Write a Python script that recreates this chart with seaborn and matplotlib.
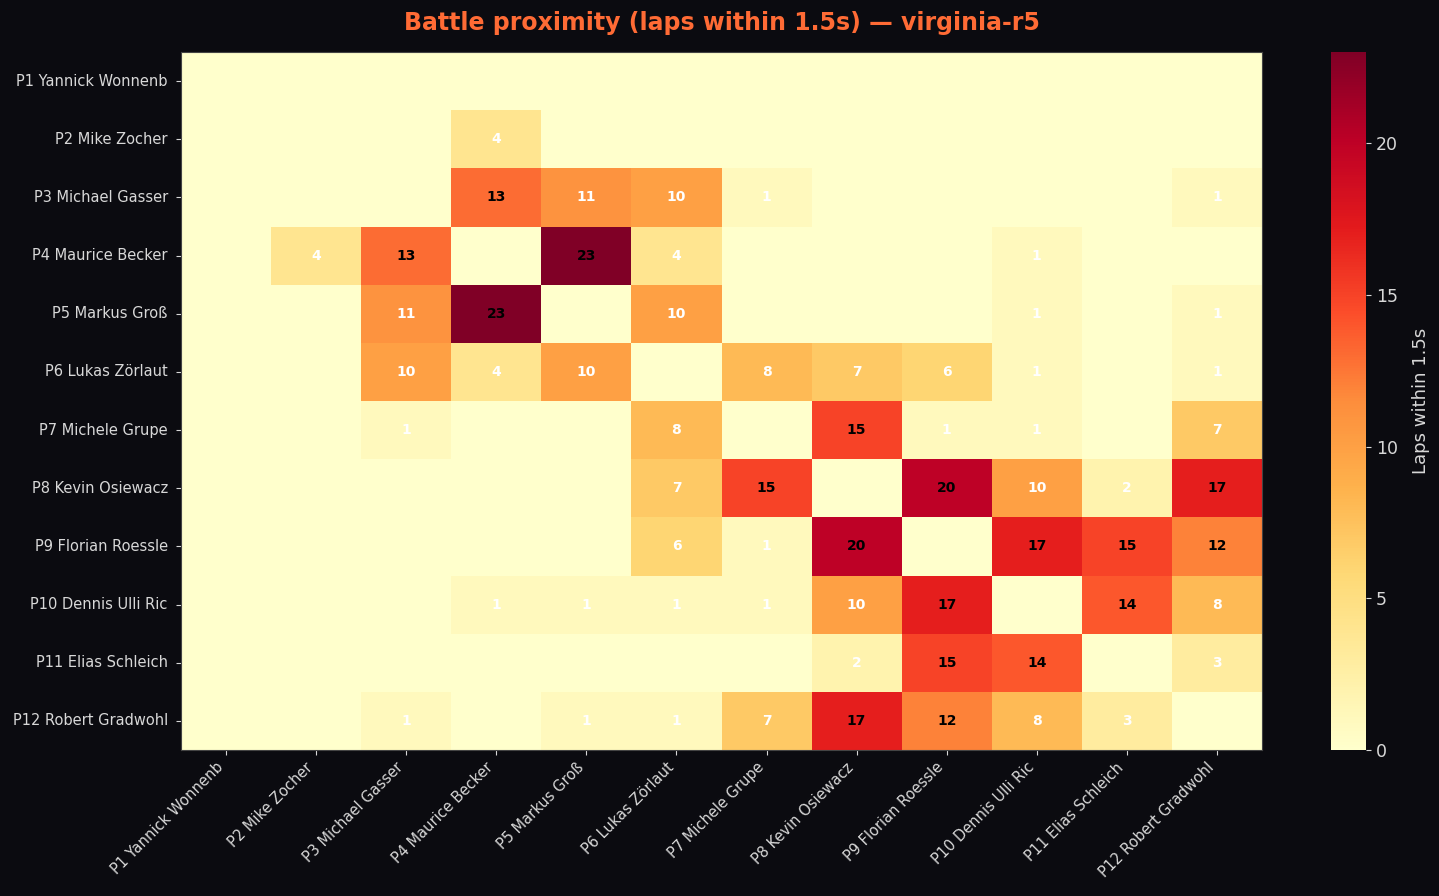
import numpy as np
import pandas as pd
import matplotlib
matplotlib.use("Agg")
import matplotlib.pyplot as plt
import seaborn as sns

# Drivers (row / column order)
drivers = [
    "P1 Yannick Wonnenb", "P2 Mike Zocher", "P3 Michael Gasser",
    "P4 Maurice Becker", "P5 Markus Groß", "P6 Lukas Zörlaut",
    "P7 Michele Grupe", "P8 Kevin Osiewacz", "P9 Florian Roessle",
    "P10 Dennis Ulli Ric", "P11 Elias Schleich", "P12 Robert Gradwohl",
]

# laps within 1.5s, one row per driver
p1 = [0, 0, 0, 0, 0, 0, 0, 0, 0, 0, 0, 0]
p2 = [0, 0, 0, 4, 0, 0, 0, 0, 0, 0, 0, 0]
p3 = [0, 0, 0, 13, 11, 10, 1, 0, 0, 0, 0, 1]
p4 = [0, 4, 13, 0, 23, 4, 0, 0, 0, 1, 0, 0]
p5 = [0, 0, 11, 23, 0, 10, 0, 0, 0, 1, 0, 1]
p6 = [0, 0, 10, 4, 10, 0, 8, 7, 6, 1, 0, 1]
p7 = [0, 0, 1, 0, 0, 8, 0, 15, 1, 1, 0, 7]
p8 = [0, 0, 0, 0, 0, 7, 15, 0, 20, 10, 2, 17]
p9 = [0, 0, 0, 0, 0, 6, 1, 20, 0, 17, 15, 12]
p10 = [0, 0, 0, 1, 1, 1, 1, 10, 17, 0, 14, 8]
p11 = [0, 0, 0, 0, 0, 0, 0, 2, 15, 14, 0, 3]
p12 = [0, 0, 1, 0, 1, 1, 7, 17, 12, 8, 3, 0]

df = pd.DataFrame([p1, p2, p3, p4, p5, p6, p7, p8, p9, p10, p11, p12],
                  index=drivers, columns=drivers)

bg = "#0b0b10"
txt = "#d8d8d8"

fig = plt.figure(figsize=(14.39, 8.96), dpi=100, facecolor=bg)
ax = fig.add_axes([181 / 1439, 1 - 750 / 896, (1262 - 181) / 1439, (750 - 52) / 896])
cax = fig.add_axes([1331 / 1439, 1 - 750 / 896, 35 / 1439, (750 - 52) / 896])
ax.set_facecolor(bg)

vmax = df.values.max()
sns.heatmap(df, ax=ax, cbar_ax=cax, cmap="YlOrRd", vmin=0, vmax=vmax,
            cbar_kws={"label": "Laps within 1.5s"})

# annotate non-zero cells
for i in range(len(drivers)):
    for j in range(len(drivers)):
        v = df.iat[i, j]
        if v > 0:
            c = "black" if v > vmax / 2 else "white"
            ax.text(j + 0.5, i + 0.5, str(v), ha="center", va="center",
                    fontsize=10, fontweight="bold", color=c)

ax.set_xlabel("")
ax.set_ylabel("")
ax.set_xticklabels(drivers, rotation=45, ha="right", fontsize=10.5, color=txt)
ax.set_yticklabels(drivers, rotation=0, fontsize=10.5, color=txt)
ax.tick_params(colors=txt, length=3.5)
ax.tick_params(axis="y", pad=6)
for s in ax.spines.values():
    s.set_visible(True)
    s.set_color("#444444")

ax.set_title("Battle proximity (laps within 1.5s) — virginia-r5",
             color="#ff6b35", fontsize=17, fontweight="bold", pad=16)

cax.tick_params(colors=txt, labelsize=12.5)
cax.set_ylabel("Laps within 1.5s", color=txt, fontsize=13, labelpad=10)
for s in cax.spines.values():
    s.set_color("#444444")

fig.savefig("out.png", dpi=100, facecolor=bg)
